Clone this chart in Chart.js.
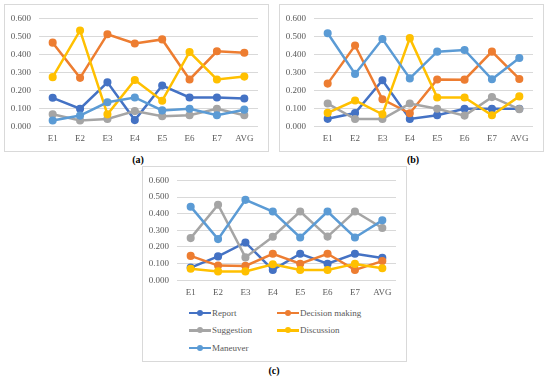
<!DOCTYPE html>
<html>
<head>
<meta charset="utf-8">
<script src="https://cdn.jsdelivr.net/npm/chart.js@4.4.1/dist/chart.umd.min.js"></script>
<style>
  html,body{margin:0;padding:0;background:#fff;}
  body{width:550px;height:378px;position:relative;overflow:hidden;font-family:"Liberation Serif",serif;}
  .frame{position:absolute;border:1px solid #d9d9d9;box-sizing:border-box;}
  .cv{position:absolute;}
  .cap{position:absolute;font-weight:bold;font-size:10px;color:#000;transform:translate(-50%,-50%);white-space:nowrap;}
  .leg{position:absolute;font-size:9px;color:#595959;white-space:nowrap;display:flex;align-items:center;transform:translateY(-50%);}
  .sym{position:relative;width:22px;height:12px;margin-right:1px;}
  .sym .ln{position:absolute;left:0;right:0;top:5px;height:2.5px;}
  .sym .dt{position:absolute;left:8px;top:3px;width:6px;height:6px;border-radius:50%;}
</style>
</head>
<body>
<div class="frame" style="left:4px;top:4px;width:265px;height:148px;"></div>
<div class="frame" style="left:279px;top:4px;width:265px;height:148px;"></div>
<div class="frame" style="left:142px;top:166px;width:265px;height:196px;"></div>
<div class="cv" style="left:5px;top:5px;width:263px;height:146px;"><canvas id="ca"></canvas></div>
<div class="cv" style="left:280px;top:5px;width:263px;height:146px;"><canvas id="cb"></canvas></div>
<div class="cv" style="left:143px;top:167px;width:263px;height:138px;"><canvas id="cc"></canvas></div>
<div class="cap" style="left:138px;top:159px;">(a)</div>
<div class="cap" style="left:413px;top:159px;">(b)</div>
<div class="cap" style="left:274px;top:370px;">(c)</div>
<div id="legend"></div>
<script>
const categories = ['E1','E2','E3','E4','E5','E6','E7','AVG'];
const seriesNames = ['Report','Decision making','Suggestion','Discussion','Maneuver'];
const seriesColors = ['#4472C4','#ED7D31','#A5A5A5','#FFC000','#5B9BD5'];
const yMin = 0, yMax = 0.6, yStep = 0.1;

const aReport     = [0.158,0.097,0.244,0.034,0.226,0.160,0.160,0.154];
const aDecision   = [0.465,0.269,0.512,0.460,0.483,0.260,0.417,0.409];
const aSuggestion = [0.066,0.032,0.040,0.084,0.056,0.061,0.097,0.061];
const aDiscussion = [0.273,0.533,0.066,0.257,0.142,0.413,0.260,0.276];
const aManeuver   = [0.032,0.059,0.133,0.160,0.088,0.097,0.061,0.092];

const bReport     = [0.041,0.073,0.256,0.040,0.061,0.097,0.097,0.097];
const bDecision   = [0.237,0.449,0.150,0.072,0.260,0.259,0.415,0.263];
const bSuggestion = [0.126,0.040,0.040,0.126,0.097,0.059,0.162,0.095];
const bDiscussion = [0.074,0.143,0.066,0.490,0.160,0.160,0.061,0.166];
const bManeuver   = [0.517,0.291,0.485,0.266,0.415,0.424,0.261,0.380];

const cReport     = [0.076,0.143,0.227,0.062,0.159,0.099,0.159,0.134];
const cDecision   = [0.146,0.088,0.086,0.159,0.099,0.159,0.062,0.115];
const cSuggestion = [0.253,0.454,0.137,0.261,0.413,0.262,0.413,0.314];
const cDiscussion = [0.069,0.053,0.053,0.096,0.061,0.061,0.098,0.072];
const cManeuver   = [0.442,0.247,0.483,0.413,0.257,0.413,0.257,0.360];

const FONT = "'Liberation Serif', serif";
const TXT = '#595959';

function makeChart(id, seriesList, padTop, padBottom) {
  const datasets = seriesList.map((d, i) => ({
    label: seriesNames[i],
    data: d,
    borderColor: seriesColors[i],
    backgroundColor: seriesColors[i],
    pointBackgroundColor: seriesColors[i],
    pointBorderColor: seriesColors[i],
    borderWidth: 2.5,
    pointRadius: 2.8,
    pointHoverRadius: 2.8,
    tension: 0,
    order: seriesList.length - i
  }));
  return new Chart(document.getElementById(id), {
    type: 'line',
    data: { labels: categories, datasets },
    options: {
      responsive: true,
      maintainAspectRatio: false,
      animation: false,
      events: [],
      layout: { padding: { left: 0, right: 10, top: padTop, bottom: padBottom } },
      plugins: { legend: { display: false }, tooltip: { enabled: false } },
      scales: {
        x: {
          type: 'category',
          offset: true,
          grid: { display: false, drawTicks: false },
          border: { display: false },
          ticks: { color: TXT, font: { family: FONT, size: 9 }, padding: 7, maxRotation: 0, autoSkip: false }
        },
        y: {
          min: yMin, max: yMax,
          afterFit: s => { s.width = 34; },
          grid: { color: '#d9d9d9', lineWidth: 1, drawTicks: false },
          border: { display: false },
          ticks: { stepSize: yStep, color: TXT, font: { family: FONT, size: 9 }, padding: 8,
                   callback: v => Number(v).toFixed(3) }
        }
      }
    }
  });
}

makeChart('ca', [aReport,aDecision,aSuggestion,aDiscussion,aManeuver], 10, 0);
makeChart('cb', [bReport,bDecision,bSuggestion,bDiscussion,bManeuver], 10, 0);
makeChart('cc', [cReport,cDecision,cSuggestion,cDiscussion,cManeuver], 9, 0);

// Legend for (c)
const legPos = [[189,312.7],[277,312.7],[189,330],[277,330],[189,347.7]];
const leg = document.getElementById('legend');
seriesNames.forEach((n, i) => {
  const el = document.createElement('div');
  el.className = 'leg';
  el.style.left = legPos[i][0] + 'px';
  el.style.top = legPos[i][1] + 'px';
  el.innerHTML = '<div class="sym"><div class="ln" style="background:' + seriesColors[i] + '"></div><div class="dt" style="background:' + seriesColors[i] + '"></div></div><span>' + n + '</span>';
  leg.appendChild(el);
});
</script>
</body>
</html>
